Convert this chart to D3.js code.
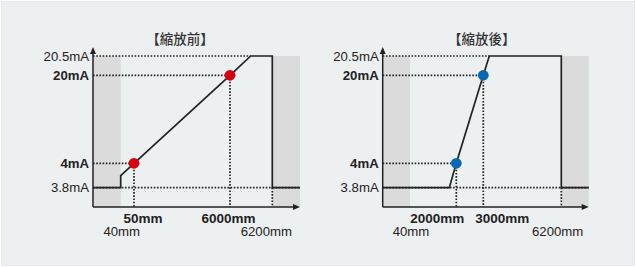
<!DOCTYPE html>
<html lang="zh-Hant"><head><meta charset="utf-8">
<script src="https://cdn.jsdelivr.net/npm/d3@7"></script>
<style>
html,body{margin:0;padding:0;background:#fff;}
svg{display:block;}
.title{text-spacing-trim: space-all;}
</style></head>
<body>
<svg id="chart" width="636" height="267"></svg>
<script>
// ---------- data ----------
const titles = ["【縮放前】", "【縮放後】"];
const yTicks = [3.8, 4, 20, 20.5];            // mA
const yBoldTicks = [4, 20];
const bandLimits = [40, 6200];                // mm (detection range limits)
// output line (mm, mA)
const beforeLine = [[0,3.8],[40,3.8],[40,3.9],[50,4],[6000,20],[6190,20.5],[6200,20.5],[6200,3.8],[6500,3.8]];
const afterLine  = [[0,3.8],[40,3.8],[1990,3.8],[2000,4],[3000,20],[3030,20.5],[6200,20.5],[6200,3.8],[6500,3.8]];
// scaling points (mm, mA)
const beforePoints = [[50,4],[6000,20]];
const afterPoints  = [[2000,4],[3000,20]];
const pointLabels = [["50mm","6000mm"],["2000mm","3000mm"]];
const limitLabels = ["40mm","6200mm"];

// ---------- layout ----------
const W = 636, H = 267;
const axisY = 207, axisTop = 47;
const yRange = [187.7, 163.3, 75.3, 56];
const panels = [
  { x0: 93, line: beforeLine, points: beforePoints, color: "#d7000f",
    offsets: [0, 27.7, 41, 137, 157.7, 179.3, 207],
    titleX: 180, ptDx: [9, -1.5], limDx: [1, -6], labels: pointLabels[0], title: titles[0] },
  { x0: 382.7, line: afterLine, points: afterPoints, color: "#0a68b4",
    offsets: [0, 27.3, 66.6, 73.6, 100.6, 106.6, 178.6, 206],
    titleX: 481.7, ptDx: [-19, 19], limDx: [1, -3.6], labels: pointLabels[1], title: titles[1] }
];

const svg = d3.select("#chart");
svg.append("rect").attr("x",1.5).attr("y",1.5).attr("width",W-3).attr("height",H-3)
  .attr("fill","#edf0f1").attr("stroke","#e6eaec").attr("stroke-width",1);

const y = d3.scaleLinear().domain(yTicks).range(yRange);
const FONT = "'Liberation Sans', Arial, Helvetica, sans-serif";
const dark = "#222";

panels.forEach(p => {
  const xDomain = Array.from(new Set(p.line.map(d => d[0]))).sort((a,b)=>a-b);
  const x = d3.scaleLinear().domain(xDomain).range(p.offsets.map(o => p.x0 + o));
  const xEnd = x(xDomain[xDomain.length-1]);
  const g = svg.append("g");

  // gray out-of-range bands
  g.append("rect").attr("x", x(0)).attr("y", y(20.5))
    .attr("width", x(bandLimits[0]) - x(0)).attr("height", axisY - y(20.5)).attr("fill", "#dbdbdb");
  g.append("rect").attr("x", x(bandLimits[1])).attr("y", y(20.5))
    .attr("width", xEnd - x(bandLimits[1])).attr("height", axisY - y(20.5)).attr("fill", "#dbdbdb");

  // dotted guides
  const dot = sel => sel.attr("stroke", "#222").attr("stroke-width", 1.7).attr("stroke-dasharray", "1.6,1.6").attr("fill","none");
  const top = p.line.find(d => d[1] === 20.5);
  const hGuides = [[20.5, top[0]], [p.points[1][1], p.points[1][0]], [p.points[0][1], p.points[0][0]], [3.8, xDomain[xDomain.length-1]]];
  hGuides.forEach(([v, xe]) => {
    g.append("line").attr("x1", x(0)).attr("x2", x(xe)).attr("y1", y(v)).attr("y2", y(v)).call(dot);
  });
  p.points.forEach(pt => {
    g.append("line").attr("x1", x(pt[0])).attr("x2", x(pt[0])).attr("y1", y(pt[1])).attr("y2", axisY).call(dot);
  });
  g.append("line").attr("x1", x(bandLimits[1])).attr("x2", x(bandLimits[1])).attr("y1", y(3.8)).attr("y2", axisY).call(dot);

  // output line
  g.append("path").datum(p.line)
    .attr("d", d3.line().x(d => x(d[0])).y(d => y(d[1])))
    .attr("fill","none").attr("stroke", dark).attr("stroke-width", 1.7).attr("stroke-linejoin","miter");

  // axes
  g.append("line").attr("x1", x(0)).attr("x2", x(0)).attr("y1", axisY).attr("y2", axisTop + 3)
    .attr("stroke", dark).attr("stroke-width", 1.5);
  g.append("line").attr("x1", x(0)).attr("x2", xEnd - 3).attr("y1", axisY).attr("y2", axisY)
    .attr("stroke", dark).attr("stroke-width", 1.5);
  g.append("path").attr("d", `M${x(0)},${axisTop} L${x(0)-3},${axisTop+7} L${x(0)+3},${axisTop+7} Z`).attr("fill", dark);
  g.append("path").attr("d", `M${xEnd},${axisY} L${xEnd-7},${axisY-3} L${xEnd-7},${axisY+3} Z`).attr("fill", dark);

  // points
  g.selectAll("circle.pt").data(p.points).join("circle")
    .attr("cx", d => x(d[0])).attr("cy", d => y(d[1])).attr("r", 5.4).attr("fill", p.color);

  // y tick labels via d3 axis
  const ya = g.append("g").attr("transform", `translate(${x(0)},0)`)
    .call(d3.axisLeft(y).tickValues(yTicks).tickSize(0).tickPadding(4).tickFormat(d => d + "mA"));
  ya.select(".domain").remove();
  ya.selectAll("text").attr("font-family", FONT).attr("font-size", 13.2).attr("fill", dark)
    .attr("font-weight", d => yBoldTicks.includes(d) ? "bold" : "normal");

  // x labels
  p.points.forEach((pt, i) => {
    g.append("text").attr("x", x(pt[0]) + p.ptDx[i]).attr("y", 222.7).attr("text-anchor","middle")
      .attr("font-family", FONT).attr("font-size", 13.5).attr("font-weight","bold").attr("fill", dark).text(p.labels[i]);
  });
  bandLimits.forEach((b, i) => {
    g.append("text").attr("x", x(b) + p.limDx[i]).attr("y", 235.7).attr("text-anchor","middle")
      .attr("font-family", FONT).attr("font-size", 13.2).attr("fill", dark).text(limitLabels[i]);
  });

  // title
  g.append("text").attr("class","title").attr("x", p.titleX).attr("y", 44).attr("text-anchor","middle")
    .attr("font-family", "'Noto Sans CJK TC','Noto Sans CJK JP',sans-serif").attr("font-size", 13.5)
    .attr("font-weight", 500).attr("fill", "#333").text(p.title);
});
</script>
</body></html>
